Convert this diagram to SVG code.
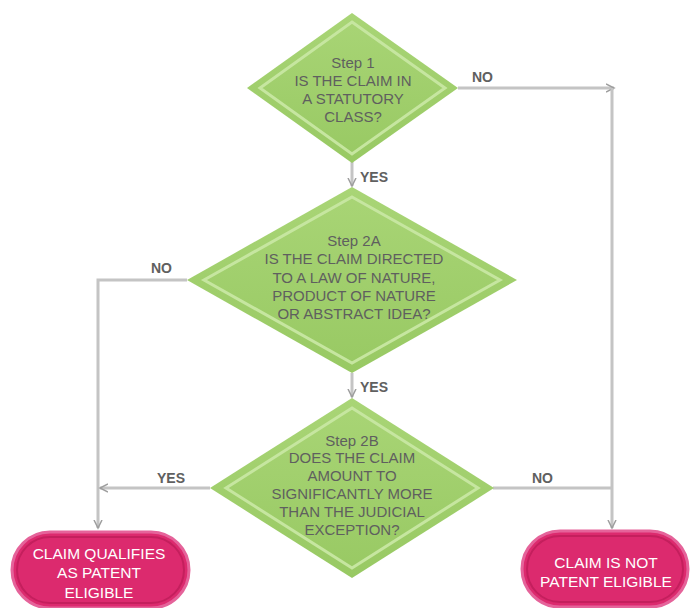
<svg xmlns="http://www.w3.org/2000/svg" width="691" height="608" viewBox="0 0 691 608">
<style>
.dt{font-family:"Liberation Sans",Arial,sans-serif;font-size:15px;fill:#5f5f5f;text-anchor:middle}
.pt{font-family:"Liberation Sans",Arial,sans-serif;font-size:15.5px;fill:#ffffff;text-anchor:middle}
.lb{font-family:"Liberation Sans",Arial,sans-serif;font-size:14px;font-weight:bold;fill:#606060}
.ln{fill:none;stroke:#c4c4c4;stroke-width:3}
.dia{fill:url(#g)}
.dib{fill:none;stroke:#c6e6a0;stroke-width:3}
.pill{fill:#dc2a6e;stroke:#e5639a;stroke-width:3}
.pin{fill:none;stroke:#c41f5d;stroke-width:2}
</style>
<defs>
<linearGradient id="g" x1="0" y1="0" x2="0" y2="1">
<stop offset="0" stop-color="#a9d576"/>
<stop offset="1" stop-color="#98c963"/>
</linearGradient>
<marker id="ar" markerWidth="10" markerHeight="10" refX="8" refY="5" orient="auto" markerUnits="userSpaceOnUse">
<path d="M0,1 L8,5 L0,9" fill="none" stroke="#9e9e9e" stroke-width="1.5"/>
</marker>
</defs>
<g id="connectors">
<path class="ln" d="M458,88 L614,88" marker-end="url(#ar)"/>
<path class="ln" d="M612,88 L612,528" marker-end="url(#ar)"/>
<path class="ln" d="M352,162 L352,186" marker-end="url(#ar)"/>
<path class="ln" d="M187,280 L98,280 L98,528" marker-end="url(#ar)"/>
<path class="ln" d="M352,373 L352,397" marker-end="url(#ar)"/>
<path class="ln" d="M210,488 L100,488" marker-end="url(#ar)"/>
<path class="ln" d="M493,488 L612,488"/>
<text class="lb" x="472" y="82">NO</text>
<text class="lb" x="360" y="182">YES</text>
<text class="lb" x="151" y="273">NO</text>
<text class="lb" x="360" y="392">YES</text>
<text class="lb" x="157" y="483">YES</text>
<text class="lb" x="532" y="483">NO</text>
</g>
<g id="step1">
<polygon class="dia" points="352,13 458,88 352,163 247,88"/>
<polygon class="dib" points="352,22 445,88 352,154 260,88"/>
<text class="dt" x="353" y="68">Step 1</text>
<text class="dt" x="353" y="86">IS THE CLAIM IN</text>
<text class="dt" x="353" y="104">A STATUTORY</text>
<text class="dt" x="353" y="122">CLASS?</text>
</g>
<g id="step2a">
<polygon class="dia" points="352,187 517,280 352,373 187,280"/>
<polygon class="dib" points="352,197 500,280 352,363 204,280"/>
<text class="dt" x="354" y="246">Step 2A</text>
<text class="dt" x="354" y="264">IS THE CLAIM DIRECTED</text>
<text class="dt" x="354" y="283">TO A LAW OF NATURE,</text>
<text class="dt" x="354" y="301">PRODUCT OF NATURE</text>
<text class="dt" x="354" y="319">OR ABSTRACT IDEA?</text>
</g>
<g id="step2b">
<polygon class="dia" points="352,398 494,488 352,578 210,488"/>
<polygon class="dib" points="352,408 478,488 352,568 226,488"/>
<text class="dt" x="352" y="446">Step 2B</text>
<text class="dt" x="352" y="463">DOES THE CLAIM</text>
<text class="dt" x="352" y="481">AMOUNT TO</text>
<text class="dt" x="352" y="499">SIGNIFICANTLY MORE</text>
<text class="dt" x="352" y="517">THAN THE JUDICIAL</text>
<text class="dt" x="352" y="535">EXCEPTION?</text>
</g>
<g id="eligible">
<rect class="pill" x="12" y="532" width="177" height="76" rx="38"/>
<rect class="pin" x="17" y="537" width="167" height="66" rx="33"/>
<text class="pt" x="99" y="559">CLAIM QUALIFIES</text>
<text class="pt" x="99" y="578">AS PATENT</text>
<text class="pt" x="99" y="598">ELIGIBLE</text>
</g>
<g id="not-eligible">
<rect class="pill" x="522" y="531" width="166" height="76" rx="38"/>
<rect class="pin" x="527" y="536" width="156" height="66" rx="33"/>
<text class="pt" x="606" y="568">CLAIM IS NOT</text>
<text class="pt" x="606" y="587">PATENT ELIGIBLE</text>
</g>
</svg>
